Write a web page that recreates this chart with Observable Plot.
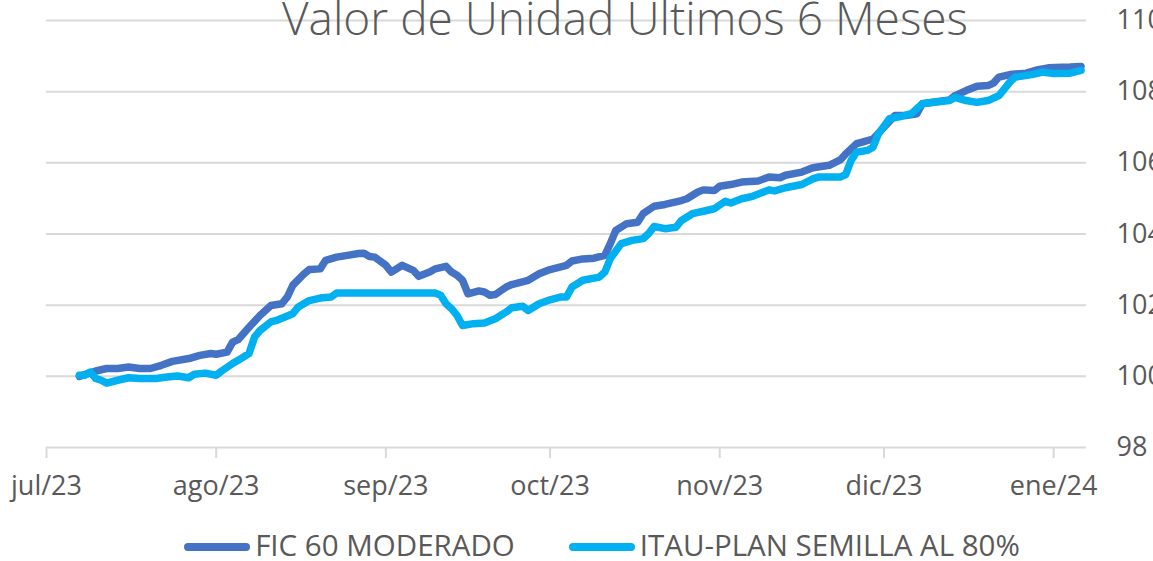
<!DOCTYPE html>
<html>
<head>
<meta charset="utf-8">
<script src="https://cdn.jsdelivr.net/npm/d3@7"></script>
<script src="https://cdn.jsdelivr.net/npm/@observablehq/plot@0.6"></script>
<style>
  html, body { margin: 0; padding: 0; background: #fff; }
  #wrap { position: relative; width: 1153px; height: 561px; overflow: hidden; font-family: "Open Sans", sans-serif; color: #595959; }
  #title { position: absolute; left: 0; width: 1250px; text-align: center; top: -14px; font-size: 46px; font-weight: 300; white-space: nowrap; }
  #legend { position: absolute; top: 524px; left: 0; width: 1204px; text-align: center; font-size: 29.5px; white-space: nowrap; }
  .sw { display: inline-block; width: 66px; height: 8px; border-radius: 4px; vertical-align: middle; margin-right: 5px; position: relative; top: -1px; }
  .item { display: inline-block; margin: 0 27px; }
</style>
</head>
<body>
<div id="wrap">
  <div id="chart"></div>
  <div id="title"></div>
  <div id="legend"></div>
</div>
<script>
const titleText = "Valor de Unidad Ultimos 6 Meses";
const seriesNames = ["FIC 60 MODERADO", "ITAU-PLAN SEMILLA AL 80%"];
const seriesColors = ["#4472C4", "#00B0F0"];
const xTickDates = ["2023-07-01","2023-08-01","2023-09-01","2023-10-01","2023-11-01","2023-12-01","2024-01-01"];
const xTickLabels = ["jul/23","ago/23","sep/23","oct/23","nov/23","dic/23","ene/24"];
const yTicks = [98, 100, 102, 104, 106, 108, 110];

const ficDates = ["2023-07-07","2023-07-10","2023-07-12","2023-07-14","2023-07-16","2023-07-18","2023-07-20","2023-07-22","2023-07-24","2023-07-27","2023-07-29","2023-07-31","2023-08-01","2023-08-03","2023-08-04","2023-08-05","2023-08-07","2023-08-09","2023-08-11","2023-08-13","2023-08-14","2023-08-15","2023-08-17","2023-08-18","2023-08-20","2023-08-21","2023-08-23","2023-08-25","2023-08-27","2023-08-28","2023-08-29","2023-08-30","2023-09-01","2023-09-02","2023-09-04","2023-09-06","2023-09-07","2023-09-09","2023-09-10","2023-09-12","2023-09-13","2023-09-14","2023-09-15","2023-09-16","2023-09-18","2023-09-19","2023-09-20","2023-09-21","2023-09-23","2023-09-24","2023-09-27","2023-09-29","2023-10-01","2023-10-04","2023-10-05","2023-10-07","2023-10-09","2023-10-11","2023-10-12","2023-10-13","2023-10-15","2023-10-17","2023-10-18","2023-10-20","2023-10-22","2023-10-25","2023-10-26","2023-10-28","2023-10-29","2023-10-31","2023-11-01","2023-11-03","2023-11-05","2023-11-08","2023-11-10","2023-11-12","2023-11-13","2023-11-16","2023-11-18","2023-11-21","2023-11-23","2023-11-24","2023-11-26","2023-11-27","2023-11-29","2023-12-01","2023-12-03","2023-12-05","2023-12-07","2023-12-08","2023-12-10","2023-12-13","2023-12-14","2023-12-16","2023-12-18","2023-12-20","2023-12-21","2023-12-22","2023-12-24","2023-12-27","2023-12-29","2023-12-31","2024-01-04","2024-01-06"];
const ficValues = [100.0,100.15,100.22,100.22,100.26,100.22,100.22,100.31,100.42,100.50,100.59,100.64,100.62,100.68,100.96,101.03,101.38,101.71,101.99,102.04,102.23,102.56,102.87,103.0,103.02,103.26,103.35,103.40,103.45,103.46,103.37,103.35,103.12,102.93,103.12,102.98,102.81,102.93,103.02,103.09,102.93,102.84,102.70,102.32,102.40,102.37,102.28,102.30,102.51,102.58,102.70,102.88,103.0,103.12,103.24,103.30,103.32,103.40,103.73,104.10,104.29,104.33,104.57,104.78,104.83,104.94,104.99,105.18,105.24,105.22,105.34,105.39,105.46,105.49,105.60,105.58,105.65,105.74,105.86,105.93,106.08,106.25,106.54,106.58,106.67,107.0,107.33,107.33,107.38,107.66,107.70,107.77,107.89,108.03,108.15,108.17,108.24,108.41,108.48,108.52,108.61,108.67,108.69,108.71];

const itauDates = ["2023-07-07","2023-07-08","2023-07-09","2023-07-10","2023-07-11","2023-07-12","2023-07-14","2023-07-16","2023-07-18","2023-07-21","2023-07-23","2023-07-25","2023-07-27","2023-07-28","2023-07-30","2023-08-01","2023-08-02","2023-08-04","2023-08-05","2023-08-07","2023-08-08","2023-08-09","2023-08-11","2023-08-12","2023-08-15","2023-08-16","2023-08-18","2023-08-20","2023-08-22","2023-08-23","2023-09-10","2023-09-11","2023-09-12","2023-09-13","2023-09-14","2023-09-15","2023-09-17","2023-09-19","2023-09-21","2023-09-23","2023-09-24","2023-09-26","2023-09-27","2023-09-29","2023-10-01","2023-10-03","2023-10-04","2023-10-05","2023-10-07","2023-10-10","2023-10-11","2023-10-12","2023-10-14","2023-10-16","2023-10-18","2023-10-19","2023-10-20","2023-10-22","2023-10-24","2023-10-25","2023-10-27","2023-10-29","2023-10-31","2023-11-02","2023-11-03","2023-11-05","2023-11-07","2023-11-09","2023-11-10","2023-11-11","2023-11-13","2023-11-16","2023-11-18","2023-11-19","2023-11-23","2023-11-24","2023-11-25","2023-11-26","2023-11-28","2023-11-29","2023-11-30","2023-12-02","2023-12-04","2023-12-06","2023-12-08","2023-12-10","2023-12-13","2023-12-14","2023-12-16","2023-12-18","2023-12-20","2023-12-22","2023-12-24","2023-12-25","2023-12-28","2023-12-30","2024-01-01","2024-01-04","2024-01-06"];
const itauValues = [100.03,100.03,100.12,99.94,99.89,99.81,99.89,99.96,99.94,99.94,99.98,100.01,99.96,100.06,100.09,100.03,100.15,100.36,100.45,100.64,101.10,101.29,101.53,101.57,101.76,101.95,102.13,102.20,102.23,102.34,102.34,102.28,102.04,101.90,101.71,101.43,101.48,101.50,101.62,101.81,101.93,101.97,101.85,102.04,102.15,102.23,102.23,102.51,102.70,102.79,102.93,103.31,103.73,103.82,103.87,104.01,104.21,104.15,104.19,104.38,104.57,104.64,104.71,104.92,104.87,104.99,105.06,105.18,105.24,105.21,105.30,105.39,105.55,105.60,105.60,105.67,106.07,106.30,106.35,106.44,106.82,107.24,107.30,107.38,107.66,107.70,107.75,107.84,107.75,107.70,107.75,107.89,108.27,108.41,108.48,108.55,108.51,108.52,108.60];

const parse = s => new Date(s + "T00:00:00Z");
const fic = ficDates.map((d, i) => ({date: parse(d), value: ficValues[i], series: seriesNames[0]}));
const itau = itauDates.map((d, i) => ({date: parse(d), value: itauValues[i], series: seriesNames[1]}));
const tickDates = xTickDates.map(parse);
const labelOf = new Map(tickDates.map((d, i) => [+d, xTickLabels[i]]));

const chart = Plot.plot({
  width: 1153,
  height: 561,
  marginLeft: 46,
  marginRight: 67,
  marginTop: 20,
  marginBottom: 114,
  style: {fontFamily: "'Open Sans', sans-serif", fontSize: "27px", color: "#595959", background: "#fff", overflow: "hidden"},
  x: {type: "utc", domain: [parse("2023-07-01"), parse("2024-01-07")], label: null},
  y: {domain: [98, 110], label: null},
  color: {domain: seriesNames, range: seriesColors},
  marks: [
    Plot.gridY(yTicks.filter(t => t > 98), {stroke: "#d9d9d9", strokeOpacity: 1, strokeWidth: 2}),
    Plot.ruleY([98], {stroke: "#d9d9d9", strokeWidth: 2}),
    Plot.axisX(tickDates, {anchor: "bottom", label: null, tickSize: 11, tickPadding: 17, stroke: "#d9d9d9", strokeWidth: 2, fill: "#595959", fontSize: 27, tickFormat: d => labelOf.get(+d)}),
    Plot.axisY(yTicks, {anchor: "right", label: null, tickSize: 0, tickPadding: 30, fill: "#595959", fontSize: 27, textAnchor: "start"}),
    Plot.line(fic, {x: "date", y: "value", stroke: "series", strokeWidth: 7.5, strokeLinejoin: "round", strokeLinecap: "round", curve: "linear"}),
    Plot.line(itau, {x: "date", y: "value", stroke: "series", strokeWidth: 7.5, strokeLinejoin: "round", strokeLinecap: "round", curve: "linear"})
  ]
});
document.getElementById("chart").appendChild(chart);
document.getElementById("title").textContent = titleText;
const legend = document.getElementById("legend");
seriesNames.forEach((n, i) => {
  const it = document.createElement("span");
  it.className = "item";
  const sw = document.createElement("span");
  sw.className = "sw";
  sw.style.background = seriesColors[i];
  it.appendChild(sw);
  it.appendChild(document.createTextNode(n));
  legend.appendChild(it);
});
</script>
</body>
</html>
